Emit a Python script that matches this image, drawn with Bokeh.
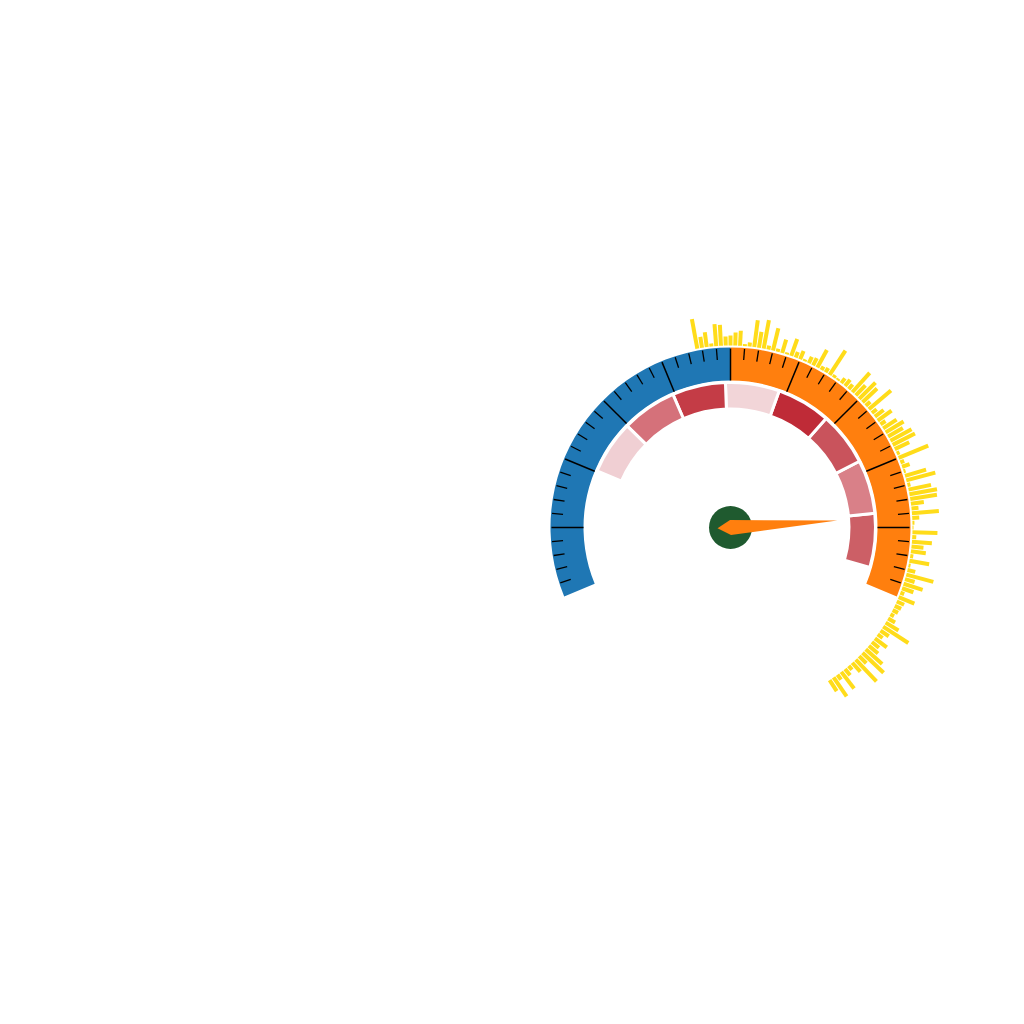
import numpy as np
from bokeh.plotting import figure
from bokeh.models import Range1d
from bokeh.embed import file_html
from bokeh.resources import INLINE

# ---- gauge scale (degrees, counter-clockwise from 3 o'clock) ----
scale_start_deg = -22.5
scale_mid_deg = 90.0
scale_end_deg = 202.5
major_step_deg = 22.5
minor_step_deg = 4.5
ring_colors = ["#ff7f0e", "#1f77b4"]   # right half, left half

# ---- inner banded ring ----
band_edges_deg = [-16.0, 5.6, 27.2, 48.8, 70.4, 92.0, 113.4, 135.5, 157.0]
band_colors = ["#cc5f66", "#d98088", "#c9535c", "#bf2b37",
               "#f2d5d8", "#c43c46", "#d5717a", "#f0cfd3"]

# ---- needle value ----
needle_deg = 3.75

# ---- outer radial bars ----
bar_start_deg = 100.5
bar_step_deg = 1.5
bar_lengths = [30, 11, 15, 3, 22, 21, 9, 10, 13, 15,
               2, 4, 27, 16, 29, 4, 23, 3, 14, 2,
               18, 6, 9, 2, 7, 8, 20, 4, 5, 29,
               3, 2, 6, 8, 6, 26, 14, 23, 20, 6,
               29, 6, 11, 17, 6, 16, 21, 17, 24, 25,
               16, 3, 32, 4, 8, 2, 22, 30, 3, 23,
               28, 27, 13, 7, 27, 7, 2, 1, 25, 4,
               20, 12, 15, 3, 20, 2, 8, 28, 10, 20,
               12, 4, 17, 8, 7, 6, 4, 8, 15, 30,
               10, 6, 15, 9, 12, 22, 29, 10, 30, 12,
               5, 8, 21, 6, 23, 13]

# geometry (screen pixels == data units)
R_RING_IN, R_RING_OUT = 147, 180
R_BAND_IN, R_BAND_OUT = 118.5, 145.0
R_BAR0 = 182
BAR_THICK = 4.0

p = figure(width=1000, height=1000, output_backend="svg", toolbar_location=None,
           x_range=Range1d(-730, 270), y_range=Range1d(-473, 527),
           min_border=0, background_fill_color="white")
p.axis.visible = False
p.grid.visible = False
p.outline_line_color = None

rad = np.deg2rad

# outer ring
p.annular_wedge(x=[0, 0], y=[0, 0], inner_radius=R_RING_IN, outer_radius=R_RING_OUT,
                start_angle=[rad(scale_start_deg), rad(scale_mid_deg)],
                end_angle=[rad(scale_mid_deg), rad(scale_end_deg)],
                fill_color=ring_colors, line_color=None)

# ticks
n_minor = int(round((scale_end_deg - scale_start_deg) / minor_step_deg))
tick_deg = scale_start_deg + minor_step_deg * np.arange(1, n_minor)
rem = np.mod(tick_deg - scale_start_deg, major_step_deg)
is_major = np.isclose(rem, 0) | np.isclose(rem, major_step_deg)
maj = rad(tick_deg[is_major])
mnr = rad(tick_deg[~is_major])
p.segment(x0=R_RING_IN * np.cos(maj), y0=R_RING_IN * np.sin(maj),
          x1=179 * np.cos(maj), y1=179 * np.sin(maj), line_color="black", line_width=1.5)
p.segment(x0=168 * np.cos(mnr), y0=168 * np.sin(mnr),
          x1=179 * np.cos(mnr), y1=179 * np.sin(mnr), line_color="black", line_width=1.3)

# inner bands
e = rad(np.array(band_edges_deg))
p.annular_wedge(x=0, y=0, inner_radius=R_BAND_IN, outer_radius=R_BAND_OUT,
                start_angle=e[:-1], end_angle=e[1:],
                fill_color=band_colors, line_color="white", line_width=3)

# radial bars
bl = np.array(bar_lengths, dtype=float)
ba = rad(bar_start_deg - bar_step_deg * np.arange(len(bl)))
rc = R_BAR0 + bl / 2
p.rect(x=rc * np.cos(ba), y=rc * np.sin(ba), width=bl, height=BAR_THICK, angle=ba,
       fill_color="#ffdc1a", line_color=None)

# hub and needle
p.circle(x=0, y=0, radius=21.5, fill_color="#1f5a2f", line_color=None)
t = rad(needle_deg)
u = np.array([np.cos(t), np.sin(t)])
v = np.array([-np.sin(t), np.cos(t)])
pts = [107 * u, 7.5 * v, -13 * u, -7.5 * v]
p.patch(x=[q[0] for q in pts], y=[q[1] for q in pts], fill_color="#ff7f0e", line_color=None)

open("out.html", "w").write(file_html(p, INLINE))
